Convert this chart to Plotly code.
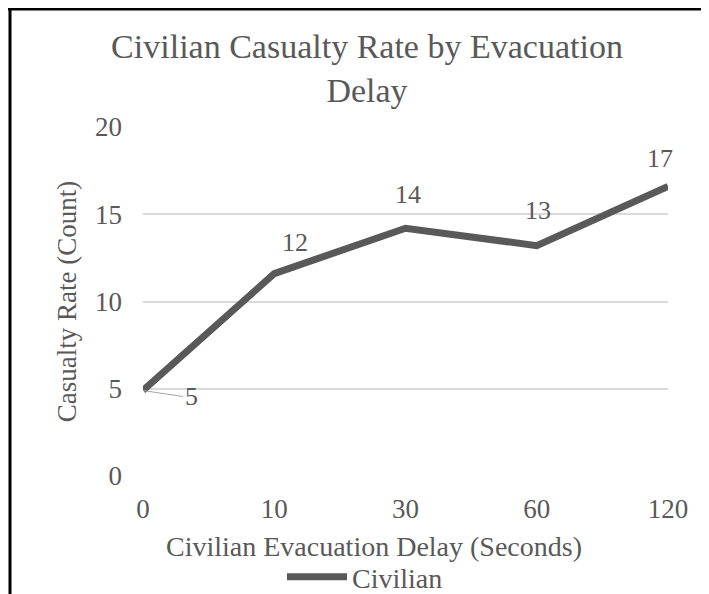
import plotly.graph_objects as go

categories = ["0", "10", "30", "60", "120"]
casualties = [4.9, 11.6, 14.2, 13.2, 16.6]
labels = ["5", "12", "14", "13", "17"]
y_ticks = [0, 5, 10, 15, 20]

GREY = "#595959"
FONT = "Liberation Serif, Times New Roman, serif"

# page body has an 8px margin: figure coordinates = page coordinates - 8
W, H = 701, 586
L, R, T, B = 135, 41, 119, 118
PW, PH = W - L - R, H - T - B


def px(fx):
    return (fx - L) / PW


def py(fy):
    return (H - B - fy) / PH


fig = go.Figure()
fig.add_trace(go.Scatter(
    x=categories, y=casualties, mode="lines", name="Civilian",
    line=dict(color=GREY, width=7),
))

# data labels (pixel offsets from the point)
offsets = [(40, 6), (21, -31), (2, -34), (1, -35), (-8, -28)]
for i, (v, t) in enumerate(zip(casualties, labels)):
    dx, dy = offsets[i]
    if i == 0:
        fig.add_annotation(x=i, y=v, text=t, showarrow=True, arrowhead=0,
                           arrowwidth=1.2, arrowcolor="#a6a6a6", ax=dx, ay=dy,
                           standoff=0, xanchor="left",
                           font=dict(size=26, color=GREY, family=FONT))
    else:
        fig.add_annotation(x=i, y=v, text=t, showarrow=False,
                           xshift=dx, yshift=-dy,
                           font=dict(size=26, color=GREY, family=FONT))

# x axis title (offset left of the plot centre, as in the original)
fig.add_annotation(xref="paper", yref="paper", x=px(374 - 8), y=py(546 - 8),
                   text="Civilian Evacuation Delay (Seconds)", showarrow=False,
                   xanchor="center", yanchor="middle",
                   font=dict(size=28, color=GREY, family=FONT))

# outer border (top and left)
fig.add_shape(type="line", xref="paper", yref="paper",
              x0=px(0), x1=px(700), y0=py(1), y1=py(1),
              line=dict(color="black", width=3))
fig.add_shape(type="line", xref="paper", yref="paper",
              x0=px(2), x1=px(2), y0=py(0), y1=py(H + 5),
              line=dict(color="black", width=3))

fig.update_layout(
    width=W, height=H,
    margin=dict(l=L, r=R, t=T, b=B, autoexpand=False),
    paper_bgcolor="white", plot_bgcolor="white",
    font=dict(family=FONT, color=GREY, size=27),
    title=dict(text="Civilian Casualty Rate by Evacuation<br>Delay",
               x=(367 - 8) / W, xanchor="center", yref="container",
               y=1 - 50 / H, yanchor="top",
               font=dict(size=34, color=GREY, family=FONT)),
    showlegend=True,
    legend=dict(orientation="h", x=px(365 - 8), xanchor="center",
                y=py(577 - 8), yanchor="middle", itemwidth=60,
                font=dict(size=28, color=GREY, family=FONT)),
    xaxis=dict(type="category", range=[0, 4], showgrid=False, zeroline=False,
               showline=False, ticks="", tickfont=dict(size=27),
               ticklabelstandoff=14),
    yaxis=dict(range=[0, 20], tickvals=y_ticks, showgrid=True,
               gridcolor="#d9d9d9", gridwidth=2, zeroline=False,
               showline=False, ticks="", tickfont=dict(size=27),
               ticklabelstandoff=20,
               title=dict(text="Casualty Rate (Count)", font=dict(size=27),
                          standoff=10)),
)

fig.write_html("out.html")
